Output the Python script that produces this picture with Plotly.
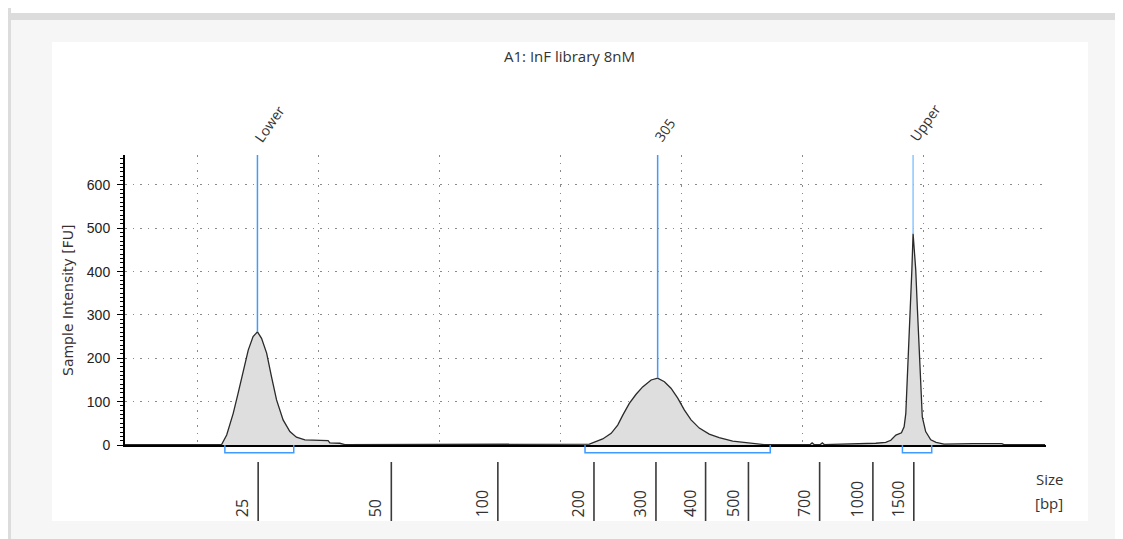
import numpy as np
import plotly.graph_objects as go

# ---- data (migration time in s, fluorescence in FU) ----
time_s = [17.0, 20.99, 21.20, 21.47, 21.67, 21.88, 22.09, 22.29, 22.47, 22.64, 22.85, 23.05, 23.26,
          23.53, 23.81, 24.08, 24.43, 25.39, 25.46, 25.87, 26.08, 36.18, 36.46, 36.73, 37.08, 37.35,
          37.56, 37.83, 38.11, 38.38, 38.73, 39.00, 39.28, 39.55, 39.83, 40.10, 40.38, 40.72, 41.13,
          41.54, 42.10, 42.51, 43.06, 43.40, 45.30, 45.38, 45.46, 45.72, 45.80, 45.88, 48.01, 48.42,
          48.63, 48.84, 49.07, 49.18, 49.25, 49.31, 49.38, 49.45, 49.50, 49.55, 49.66, 49.73, 49.80,
          49.87, 49.93, 50.07, 50.28, 50.50, 50.83, 52.02, 53.22, 53.30, 55.0]
intensity_fu = [1, 1, 23, 73, 119, 173, 219, 250, 261, 246, 212, 158, 104, 58, 31, 18, 12, 10, 5, 4,
                1, 2, 8, 14, 27, 46, 69, 96, 117, 134, 150, 154, 146, 131, 108, 81, 58, 39, 25, 17,
                9, 6, 3, 1, 1, 5, 1, 1, 5, 1, 4, 6, 11, 23, 28, 42, 73, 150, 226, 319,
                404, 488, 404, 312, 219, 135, 65, 31, 12, 6, 2, 3, 3, 1, 1]

peak_labels = ["Lower", "305", "Upper"]
peak_times = [22.47, 39.00, 49.55]

region_start = [21.125, 36.0, 49.11]
region_end = [23.97, 43.65, 50.32]

ladder_sizes = ["25", "50", "100", "200", "300", "400", "500", "700", "1000", "1500"]
ladder_times = [22.50, 28.0, 32.40, 36.37, 38.93, 40.98, 42.75, 45.69, 47.89, 49.58]

grid_times = [20, 25, 30, 35, 40, 45, 50, 55]
y_ticks = [0, 100, 200, 300, 400, 500, 600]
y_max = 669

title = "A1: InF library 8nM"

# ---- layout geometry (viewport pixels -> paper); page body has an 8px offset ----
W, H = 1123, 539
OFF = 8
PL, PT, PW, PH = 125, 155, 921, 290          # plot area in viewport pixels
L, T = PL - OFF, PT - OFF
R, B = W - L - PW, H - T - PH


def px(x):
    return (x - PL) / PW


def py(y):
    return (PT + PH - y) / PH


fig = go.Figure()
fig.add_trace(go.Scatter(x=time_s, y=intensity_fu, mode="lines",
                         line=dict(color="#2a2a2a", width=1.3),
                         fill="tozeroy", fillcolor="#dedede",
                         hoverinfo="x+y", showlegend=False))

shapes = []
# background frame
shapes.append(dict(type="rect", xref="paper", yref="paper", x0=px(11), x1=px(W + 20), y0=py(20), y1=py(H + 20),
                   fillcolor="#f6f6f6", line_width=0, layer="below"))
shapes.append(dict(type="rect", xref="paper", yref="paper", x0=px(7), x1=px(W + 20), y0=py(13), y1=py(20),
                   fillcolor="#dcdcdc", line_width=0, layer="below"))
shapes.append(dict(type="rect", xref="paper", yref="paper", x0=px(7), x1=px(11), y0=py(7), y1=py(H + 20),
                   fillcolor="#dcdcdc", line_width=0, layer="below"))
shapes.append(dict(type="rect", xref="paper", yref="paper", x0=px(52), x1=px(1088), y0=py(42), y1=py(521),
                   fillcolor="#ffffff", line_width=0, layer="below"))

# peak marker lines
annotations = []
for i, (lab, t) in enumerate(zip(peak_labels, peak_times)):
    h = float(np.interp(t, time_s, intensity_fu))
    col = "#8cc6ff" if lab == "Upper" else "#3f9bff"
    shapes.append(dict(type="line", xref="x", yref="y", x0=t, x1=t, y0=h, y1=y_max,
                       line=dict(color=col, width=1.5)))
    annotations.append(dict(x=t, y=y_max, xref="x", yref="y", text=lab, showarrow=False,
                            textangle=-55, xanchor="left", yanchor="bottom", xshift=-10, yshift=7,
                            font=dict(family="Open Sans", size=14, color="#333333")))

# region brackets
yb = py(452.7)
for s, e in zip(region_start, region_end):
    shapes.append(dict(type="path", xref="x", yref="paper",
                       path=f"M {s},0 L {s},{yb} L {e},{yb} L {e},0",
                       line=dict(color="#3f9bff", width=1.5)))

# size ladder ticks
for lab, t in zip(ladder_sizes, ladder_times):
    shapes.append(dict(type="line", xref="x", yref="paper", x0=t, x1=t, y0=py(462), y1=py(521),
                       line=dict(color="#3a3a3a", width=1.6)))
    annotations.append(dict(x=t, y=py(519), xref="x", yref="paper", text=lab, showarrow=False,
                            textangle=-90, xanchor="right", yanchor="bottom", xshift=-3,
                            font=dict(family="Open Sans", size=16, color="#333333")))

annotations.append(dict(x=px(1049), y=py(479), xref="paper", yref="paper", text="Size", showarrow=False,
                        xanchor="center", yanchor="middle",
                        font=dict(family="Open Sans", size=15, color="#333333")))
annotations.append(dict(x=px(1049), y=py(503), xref="paper", yref="paper", text="[bp]", showarrow=False,
                        xanchor="center", yanchor="middle",
                        font=dict(family="Open Sans", size=15, color="#333333")))
annotations.append(dict(x=px(569), y=py(56), xref="paper", yref="paper", text=title, showarrow=False,
                        xanchor="center", yanchor="middle",
                        font=dict(family="Open Sans", size=15, color="#333333")))
annotations.append(dict(x=px(68), y=py(300), xref="paper", yref="paper", text="Sample Intensity [FU]",
                        showarrow=False, textangle=-90, xanchor="center", yanchor="middle",
                        font=dict(family="DejaVu Sans", size=14, color="#3a3030")))

fig.update_layout(
    width=W, height=H, autosize=False,
    margin=dict(l=L, r=R, t=T, b=B, pad=0),
    paper_bgcolor="#ffffff", plot_bgcolor="#ffffff",
    shapes=shapes, annotations=annotations, showlegend=False,
    xaxis=dict(range=[17, 55.04], tickvals=grid_times, showticklabels=False, ticks="",
               showgrid=True, gridcolor="#8a8a8a", gridwidth=1, griddash="1.5px,6px",
               showline=True, linecolor="#000000", linewidth=2, zeroline=False, fixedrange=True),
    yaxis=dict(range=[0, y_max], tickvals=y_ticks, ticks="outside", ticklen=6, tickwidth=1,
               tickcolor="#000000", ticklabelstandoff=4,
               tickfont=dict(family="Liberation Sans", size=14, color="#222222"),
               minor=dict(tickvals=[v for v in range(10, y_max, 10) if v % 100], ticks="outside",
                          ticklen=3, tickcolor="#000000", showgrid=False),
               showgrid=True, gridcolor="#8a8a8a", gridwidth=1, griddash="1.5px,6px",
               showline=True, linecolor="#000000", linewidth=2, zeroline=False, fixedrange=True),
)

fig.write_html("out.html")
